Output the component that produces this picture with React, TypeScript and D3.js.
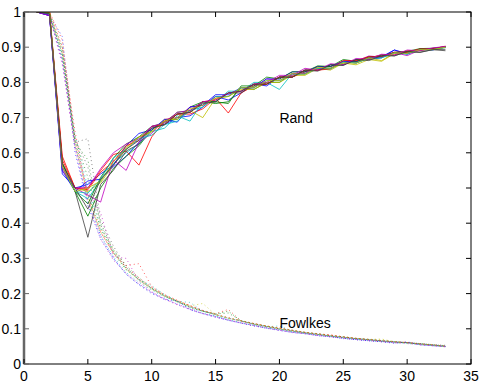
import React from "react";
import * as d3 from "d3";

// k = 1..33 for every run
const ks = d3.range(1, 34);

// matlab default colour order
const colors = ["#0000ff", "#008000", "#ff0000", "#00bfbf", "#bf00bf", "#bfbf00", "#404040"];

// Rand index, one row per run (solid lines)
const rand = [
  [1, .99, .55, .49, .52, .525, .56, .59, .63, .675, .68, .70, .705, .73, .76, .75, .77, .795, .79, .815, .815, .835, .835, .85, .85, .865, .865, .87, .892, .88, .895, .892, .902],
  [1, .995, .57, .49, .42, .50, .555, .59, .62, .665, .69, .695, .73, .745, .74, .745, .785, .78, .80, .80, .825, .825, .84, .84, .855, .86, .87, .872, .885, .885, .893, .894, .90],
  [1, 1, .58, .50, .50, .55, .595, .605, .565, .645, .69, .71, .71, .725, .755, .713, .77, .79, .795, .815, .815, .83, .835, .84, .86, .855, .87, .878, .878, .89, .89, .897, .90],
  [1, .995, .56, .49, .47, .52, .57, .60, .625, .66, .67, .705, .69, .745, .745, .775, .775, .80, .80, .78, .825, .825, .845, .84, .86, .855, .87, .87, .883, .88, .893, .893, .899],
  [1, .99, .55, .50, .48, .46, .58, .55, .63, .655, .695, .70, .73, .735, .76, .76, .785, .785, .81, .805, .825, .825, .845, .845, .86, .86, .875, .872, .885, .876, .892, .894, .90],
  [1, .995, .57, .50, .49, .515, .565, .615, .645, .66, .695, .695, .72, .70, .755, .76, .78, .78, .80, .80, .82, .82, .84, .835, .855, .85, .865, .86, .882, .885, .892, .895, .90],
  [1, .995, .56, .49, .36, .51, .55, .605, .625, .67, .68, .71, .715, .745, .745, .77, .77, .795, .795, .815, .815, .835, .835, .85, .85, .865, .865, .878, .876, .887, .886, .893, .89],
  [1, .99, .54, .50, .51, .54, .565, .62, .655, .665, .695, .687, .73, .735, .765, .765, .785, .785, .81, .81, .83, .83, .845, .845, .86, .858, .873, .873, .892, .882, .895, .896, .902],
  [1, 1, .57, .49, .455, .53, .585, .625, .645, .675, .685, .715, .72, .745, .745, .74, .79, .79, .815, .81, .83, .83, .847, .845, .865, .86, .872, .875, .885, .888, .896, .897, .901],
  [1, 1, .59, .50, .495, .545, .575, .62, .635, .675, .68, .71, .715, .745, .75, .77, .775, .795, .795, .815, .815, .835, .835, .838, .862, .862, .873, .873, .886, .886, .895, .895, .903],
  [1, .995, .56, .49, .485, .525, .585, .61, .64, .65, .68, .69, .72, .73, .76, .76, .785, .785, .805, .805, .823, .823, .84, .838, .858, .855, .868, .87, .884, .882, .893, .893, .90],
  [1, .99, .56, .50, .50, .555, .60, .625, .64, .675, .685, .715, .72, .745, .75, .77, .775, .795, .80, .82, .82, .84, .835, .853, .85, .868, .866, .88, .878, .892, .89, .898, .902],
  [1, 1, .56, .49, .50, .52, .575, .61, .645, .66, .69, .70, .725, .735, .755, .76, .785, .785, .805, .805, .825, .823, .843, .84, .855, .855, .87, .862, .884, .882, .893, .893, .90],
  [1, .995, .57, .50, .44, .525, .565, .61, .635, .67, .68, .71, .715, .74, .745, .77, .775, .795, .795, .815, .815, .835, .832, .85, .848, .865, .862, .876, .875, .888, .885, .893, .894],
];

// Fowlkes-Mallows index, same runs (dotted lines)
const fowlkes = [
  [1, .99, .86, .62, .46, .365, .30, .255, .225, .20, .185, .17, .155, .143, .135, .124, .116, .11, .101, .097, .089, .087, .08, .078, .072, .07, .066, .064, .06, .061, .055, .052, .049],
  [1, .99, .90, .63, .58, .40, .325, .28, .245, .215, .195, .178, .16, .15, .142, .145, .123, .114, .108, .10, .096, .089, .086, .08, .077, .072, .07, .066, .064, .06, .058, .054, .051],
  [1, 1, .92, .64, .48, .375, .315, .28, .285, .22, .196, .18, .166, .152, .143, .155, .122, .115, .107, .102, .095, .09, .085, .082, .077, .073, .069, .066, .063, .061, .057, .054, .05],
  [1, .99, .87, .65, .50, .385, .32, .27, .24, .222, .198, .178, .175, .15, .138, .129, .123, .114, .106, .108, .094, .09, .086, .08, .077, .072, .07, .066, .063, .06, .057, .054, .051],
  [1, .99, .85, .62, .49, .43, .305, .30, .235, .205, .186, .17, .157, .144, .135, .125, .117, .109, .103, .096, .091, .086, .082, .077, .074, .069, .066, .063, .06, .063, .055, .052, .05],
  [1, .99, .88, .62, .48, .385, .325, .27, .238, .212, .192, .18, .165, .172, .14, .13, .123, .115, .108, .102, .096, .09, .086, .081, .078, .073, .07, .071, .063, .06, .057, .054, .05],
  [1, .99, .89, .63, .64, .41, .335, .275, .24, .214, .193, .177, .162, .15, .14, .13, .122, .113, .106, .10, .094, .089, .084, .08, .076, .072, .069, .066, .063, .061, .058, .055, .053],
  [1, .99, .93, .60, .45, .355, .30, .255, .226, .204, .183, .18, .154, .143, .133, .124, .116, .108, .102, .095, .09, .086, .081, .077, .073, .069, .066, .063, .059, .062, .054, .052, .049],
  [1, 1, .87, .64, .53, .385, .315, .268, .24, .216, .193, .177, .163, .151, .142, .15, .122, .113, .106, .099, .093, .088, .084, .079, .075, .072, .069, .065, .063, .06, .057, .054, .05],
  [1, 1, .90, .66, .47, .375, .315, .275, .245, .218, .197, .181, .166, .152, .141, .132, .123, .115, .108, .102, .096, .09, .086, .083, .077, .073, .07, .066, .063, .061, .057, .054, .051],
  [1, .99, .88, .63, .49, .365, .305, .26, .232, .21, .19, .176, .16, .147, .136, .126, .118, .11, .103, .098, .092, .087, .083, .079, .074, .07, .067, .064, .061, .058, .055, .052, .05],
  [1, .99, .86, .61, .46, .355, .295, .258, .228, .203, .184, .168, .155, .143, .133, .125, .117, .109, .102, .096, .09, .086, .081, .078, .073, .07, .067, .064, .061, .058, .055, .052, .049],
  [1, 1, .89, .63, .47, .375, .315, .268, .238, .213, .194, .178, .164, .15, .141, .131, .123, .114, .107, .101, .095, .09, .085, .08, .077, .073, .069, .069, .063, .06, .057, .054, .05],
  [1, .99, .88, .64, .56, .395, .32, .272, .24, .214, .193, .178, .163, .151, .14, .13, .122, .114, .107, .10, .094, .089, .084, .08, .076, .072, .069, .066, .063, .061, .058, .055, .052],
];

const xTicks = [0, 5, 10, 15, 20, 25, 30, 35];
const yTicks = [0, 0.1, 0.2, 0.3, 0.4, 0.5, 0.6, 0.7, 0.8, 0.9, 1];
const labels = [
  { text: "Rand", x: 20, y: 0.685 },
  { text: "Fowlkes", x: 20, y: 0.102 },
];

const W = 482;
const H = 385;

const App = () => {
  const svgRef = React.useRef<SVGSVGElement>(null);

  React.useEffect(() => {
    const svg = d3.select(svgRef.current);
    svg.selectAll("*").remove();
    const margin = { top: 12, right: 11, bottom: 21, left: 24 };
    const width = W - margin.left - margin.right;
    const height = H - margin.top - margin.bottom;

    const x = d3.scaleLinear().domain([0, 35]).range([0, width]);
    const y = d3.scaleLinear().domain([0, 1]).range([height, 0]);

    const g = svg.append("g").attr("transform", `translate(${margin.left},${margin.top})`);

    g.append("defs")
      .append("clipPath")
      .attr("id", "plot-clip")
      .append("rect")
      .attr("width", width)
      .attr("height", height);

    const line = d3
      .line<number>()
      .x((_, i) => x(ks[i]))
      .y((d) => y(d));

    const plot = g.append("g").attr("clip-path", "url(#plot-clip)");

    plot
      .selectAll(".fowlkes")
      .data(fowlkes)
      .enter()
      .append("path")
      .attr("class", "fowlkes")
      .attr("d", line)
      .attr("fill", "none")
      .attr("stroke", (_, i) => colors[i % colors.length])
      .attr("stroke-width", 1)
      .attr("stroke-dasharray", "1,3")
      .attr("stroke-dashoffset", (_, i) => i % 4)
      .attr("opacity", 0.6);

    plot
      .selectAll(".rand")
      .data(rand)
      .enter()
      .append("path")
      .attr("class", "rand")
      .attr("d", line)
      .attr("fill", "none")
      .attr("stroke", (_, i) => colors[i % colors.length])
      .attr("stroke-width", 1)
      .attr("opacity", 0.8);

    // box with inward ticks on all four sides
    g.append("rect")
      .attr("width", width)
      .attr("height", height)
      .attr("fill", "none")
      .attr("stroke", "#000")
      .attr("stroke-width", 1);
    g.append("line")
      .attr("x1", 0)
      .attr("x2", 0)
      .attr("y1", 0)
      .attr("y2", height)
      .attr("stroke", "#666")
      .attr("stroke-width", 2.5);

    const tl = 5;
    xTicks.forEach((t) => {
      g.append("line").attr("x1", x(t)).attr("x2", x(t)).attr("y1", height).attr("y2", height - tl).attr("stroke", "#000");
      g.append("line").attr("x1", x(t)).attr("x2", x(t)).attr("y1", 0).attr("y2", tl).attr("stroke", "#000");
    });
    yTicks.forEach((t) => {
      g.append("line").attr("x1", 0).attr("x2", tl).attr("y1", y(t)).attr("y2", y(t)).attr("stroke", "#666");
      g.append("line").attr("x1", width).attr("x2", width - tl).attr("y1", y(t)).attr("y2", y(t)).attr("stroke", "#000");
    });

    const font = "'Liberation Sans', Arial, sans-serif";
    g.selectAll(".xlab")
      .data(xTicks)
      .enter()
      .append("text")
      .attr("x", (d) => x(d))
      .attr("y", height + 17)
      .attr("text-anchor", "middle")
      .attr("font-family", font)
      .attr("font-size", 14)
      .text((d) => d);

    g.selectAll(".ylab")
      .data(yTicks)
      .enter()
      .append("text")
      .attr("x", -3)
      .attr("y", (d) => y(d) + 5)
      .attr("text-anchor", "end")
      .attr("font-family", font)
      .attr("font-size", 14)
      .text((d) => d);

    g.selectAll(".lab")
      .data(labels)
      .enter()
      .append("text")
      .attr("x", (d) => x(d.x))
      .attr("y", (d) => y(d.y))
      .attr("font-family", font)
      .attr("font-size", 14)
      .text((d) => d.text);
  }, []);

  return (
    <div style={{ position: "absolute", left: 0, top: 0 }}>
      <svg ref={svgRef} width={W} height={H} style={{ display: "block", background: "#fff" }}></svg>
    </div>
  );
};

export default App;
